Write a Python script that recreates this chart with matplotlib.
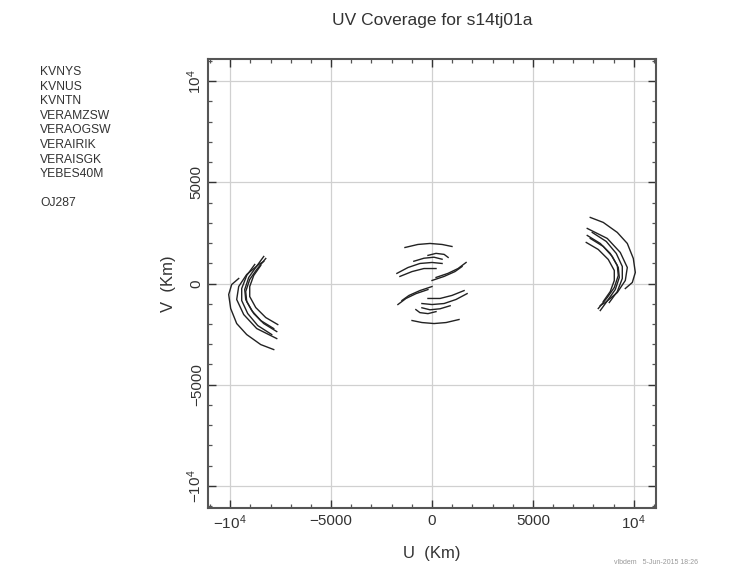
import numpy as np
import matplotlib
matplotlib.use("Agg")
import matplotlib.pyplot as plt
from matplotlib.ticker import MultipleLocator, FixedLocator, FixedFormatter

plt.rcParams['font.family'] = ['Liberation Sans', 'DejaVu Sans']
plt.rcParams['mathtext.default'] = 'regular'

# ---- data (km), one half of the uv tracks; conjugates (-u,-v) are plotted too ----
long_u = [
    [7842, 8487, 9182, 9678, 9976, 10075, 9926, 9579],
    [7693, 8685, 9330, 9678, 9579, 9182, 8586, 8338],
    [7693, 8338, 8834, 9182, 9231, 9033, 8685, 8238],
    [7842, 8487, 8933, 9231, 9281, 9083, 8735, 8338],
    [7643, 8238, 8735, 9033, 9033, 8834, 8487],
    [7941, 8636, 9132, 9430, 9430, 9182, 8784],
]
long_v = [
    [3267, 3020, 2525, 1980, 1238, 545, 50, -248],
    [2723, 2228, 1535, 792, 149, -446, -941, -1089],
    [2376, 1980, 1485, 891, 396, -198, -693, -1238],
    [2228, 1832, 1337, 792, 297, -297, -792, -1337],
    [2030, 1683, 1188, 644, 149, -396, -891],
    [2525, 2079, 1485, 842, 248, -396, -941],
]
short_u = [
    [-1340, -700, -100, 500, 990],
    [-200, 200, 600, 800],
    [-1740, -1190, -600, 0, 500],
    [-1590, -990, -400, 200],
    [200, 790, 1290, 1690],
    [0, 600, 1140, 1490],
    [-900, -400, 100, 500],
]
short_v = [
    [1780, 1930, 1980, 1930, 1830],
    [1390, 1490, 1440, 1290],
    [500, 790, 990, 1040, 990],
    [350, 590, 740, 740],
    [300, 500, 740, 1040],
    [150, 350, 590, 840],
    [1100, 1250, 1300, 1200],
]

stations = ["KVNYS", "KVNUS", "KVNTN", "VERAMZSW", "VERAOGSW",
            "VERAIRIK", "VERAISGK", "YEBES40M"]
source = "OJ287"
major_ticks = [-10000, -5000, 0, 5000, 10000]
major_labels = [r'$-10^4$', '\u22125000', '0', '5000', r'$10^4$']

fig = plt.figure(figsize=(7.36, 5.68), dpi=100)
ax = fig.add_axes([208/736, 60/568, 448/736, 449/568])

for us, vs in zip(long_u + short_u, long_v + short_v):
    u = np.array(us); v = np.array(vs)
    ax.plot(u, v, color='#222222', lw=1.0)
    ax.plot(-u, -v, color='#222222', lw=1.0)

ax.set_xlim(-11100, 11100)
ax.set_ylim(-11100, 11100)

for t in major_ticks:
    ax.axvline(t, color='#d0d0d0', lw=0.9, zorder=0)
    ax.axhline(t, color='#d0d0d0', lw=0.9, zorder=0)

ax.xaxis.set_major_locator(FixedLocator(major_ticks))
ax.yaxis.set_major_locator(FixedLocator(major_ticks))
ax.xaxis.set_major_formatter(FixedFormatter(major_labels))
ax.yaxis.set_major_formatter(FixedFormatter(major_labels))
ax.xaxis.set_minor_locator(MultipleLocator(1000))
ax.yaxis.set_minor_locator(MultipleLocator(1000))
ax.tick_params(which='both', direction='in', top=True, right=True, color='#555555')
ax.tick_params(which='major', length=6, width=1.0, labelsize=11, colors='#333333')
ax.tick_params(axis='x', which='major', pad=4)
ax.tick_params(axis='y', which='major', pad=3)
ax.tick_params(which='minor', length=3, width=0.9, color='#555555')
for lab in ax.get_yticklabels():
    lab.set_rotation(90)
    lab.set_va('center')
for s in ax.spines.values():
    s.set_color('#555555')
    s.set_linewidth(1.5)

ax.set_xlabel('U  (Km)', fontsize=12, color='#333333', labelpad=10)
ax.set_ylabel('V  (Km)', fontsize=12, color='#333333', labelpad=7)

fig.text(432/736, 1 - 20/568, 'UV Coverage for s14tj01a', ha='center', va='center',
         fontsize=12.5, color='#333333')

y0 = 72
for i, name in enumerate(stations):
    fig.text(40/736, 1 - (y0 + i*14.6)/568, name, ha='left', va='center',
             fontsize=8.7, color='#333333')
fig.text(40/736, 1 - 203/568, source, ha='left', va='center', fontsize=8.7, color='#333333')

fig.text(656/736, 1 - 562/568, 'vlbdem   5-Jun-2015 18:26', ha='center', va='center',
         fontsize=5, color='#999999')

fig.savefig('out.png', dpi=100)
